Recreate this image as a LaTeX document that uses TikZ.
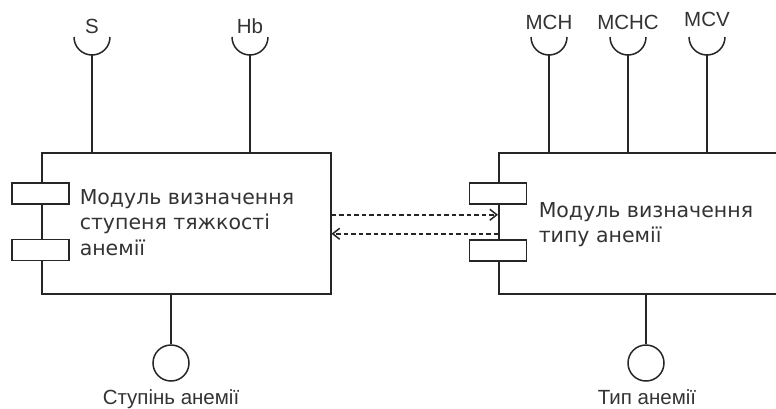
\documentclass[tikz,border=0pt]{standalone}
\usepackage{fontspec}
\setmainfont{Liberation Sans}
\newfontfamily\modfont{DejaVu Sans}
\usetikzlibrary{arrows.meta}

\begin{document}
\begin{tikzpicture}[x=1pt,y=-1pt,line width=1.5pt,draw=black!85,
  comp/.style={draw, anchor=north west, inner sep=0, minimum height=141pt},
  port/.style={draw, fill=white, minimum width=57pt, minimum height=21pt, inner sep=0},
  lbl/.style={font=\fontsize{20.5}{22}\selectfont, text=black!80, inner sep=0},
  modtext/.style={font=\modfont\fontsize{20.5}{25.5}\selectfont, align=left, anchor=base west, inner sep=0, text=black!80},
  dep/.style={dash pattern=on 4.5pt off 3pt, -{Straight Barb[length=7pt,width=11pt]}}]
  \useasboundingbox (0,0) rectangle (776,408);
  \clip (0,0) rectangle (776,408);
  % modules
  \node[comp, minimum width=289pt] (lmod) at (41,152) {};
  \node[comp, minimum width=292pt] (rmod) at (498,152) {};
  \node[modtext] (ltxt) at (79,255) {Модуль визначення\\ступеня тяжкості\\анемії};
  \node[modtext] (rtxt) at (538,242.5) {Модуль визначення\\типу анемії};
  % ports
  \node[port] (lp1) at (40.5,193.5) {};
  \node[port] (lp2) at (40.5,250) {};
  \node[port] (rp1) at (498,193.5) {};
  \node[port] (rp2) at (498,250.5) {};
  % required interfaces
  \foreach \x/\name/\txt/\ty in {92/s/S/33.3, 250/hb/Hb/33.3}{
    \coordinate (\name) at (\x,55);
    \draw (\x-18,37) arc[start angle=180, end angle=360, radius=18pt];
    \draw (\name) -- (\name |- lmod.north);
    \node[lbl, anchor=base] (\name-l) at (\x,\ty) {\txt};
  }
  \foreach \x/\name/\txt/\ty in {549/mch/MCH/29.3, 628/mchc/MCHC/29.3, 707/mcv/MCV/26.7}{
    \coordinate (\name) at (\x,55);
    \draw (\x-18,37) arc[start angle=180, end angle=360, radius=18pt];
    \draw (\name) -- (\name |- rmod.north);
    \node[lbl, anchor=base] (\name-l) at (\x,\ty) {\txt};
  }
  % provided interfaces
  \node[draw, circle, minimum size=36pt, inner sep=0] (lout) at (171,363) {};
  \draw (lout |- lmod.south) -- (lout.north);
  \node[lbl, anchor=base] (lout-l) at (171,404) {Ступінь анемії};
  \node[draw, circle, minimum size=36pt, inner sep=0] (rout) at (646,363) {};
  \draw (rout |- rmod.south) -- (rout.north);
  \node[lbl, anchor=base] (rout-l) at (647,404) {Тип анемії};
  % dependencies
  \draw[dep] ([yshift=8.5pt]lmod.east) -- ([yshift=8.5pt]rmod.west);
  \draw[dep] ([yshift=-10.5pt]rmod.west) -- ([yshift=-10.5pt]lmod.east);
\end{tikzpicture}
\end{document}
